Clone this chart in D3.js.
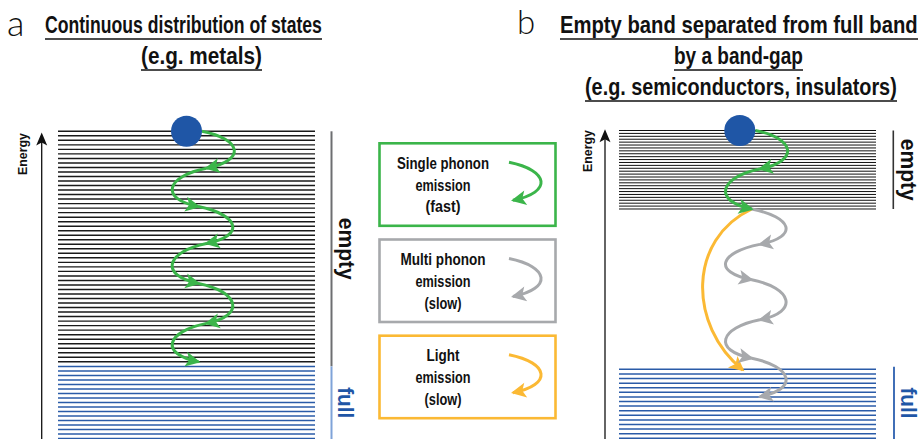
<!DOCTYPE html>
<html>
<head>
<meta charset="utf-8">
<script src="https://cdn.jsdelivr.net/npm/d3@7"></script>
<style>
  html, body { margin: 0; padding: 0; background: #fff; }
  svg { display: block; }
  .cond {
    font-family: "Liberation Sans Narrow", "Liberation Sans", "DejaVu Sans Condensed", sans-serif;
    font-weight: bold;
  }
  .panel-letter { font-family: "Lato", "Open Sans", sans-serif; font-weight: 300; }
</style>
</head>
<body>
<svg id="chart" width="921" height="439"></svg>
<script>
// ---- Band structure (energies in arbitrary units, 100 = highest drawn state) ----
const bandNames = ["empty", "full"];
const metalStates = [52, 17];
const metalBandTop = [100, 23.5];
const metalBandBottom = [25, 0];
const gapStates = [28, 16];
const gapBandTop = [100, 22.4];
const gapBandBottom = [74.5, 0];

// Electron position across the band (0 = left end, 1 = right end)
const metalElectronPos = 0.5;
const gapElectronPos = 0.47;

// Relaxation of the excited electron: energy reached after each step
const metalPhononSteps = [100, 88, 75.5, 63.5, 50.5, 37.5, 25];
const gapPhononSteps = [100, 87.5, 74.5];
const gapMultiPhononSteps = [74.5, 63, 51.5, 38.5, 26, 13.5];
const gapLightStep = [74.5, 22.2];

// Legend
const legendKinds = ["single", "multi", "light"];
const legendLabels = [
  ["Single phonon", "emission", "(fast)"],
  ["Multi phonon", "emission", "(slow)"],
  ["Light", "emission", "(slow)"]
];
const legendLabelWidths = [[92, 55, 35], [85, 55, 37], [33, 55, 37]];

// Titles
const titleA = ["Continuous distribution of states", "(e.g. metals)"];
const titleB = ["Empty band separated from full band", "by a band-gap", "(e.g. semiconductors, insulators)"];

const colors = { single: "#3bb54a", multi: "#a7a9ac", light: "#fbb934", electron: "#1f56a6" };

const svg = d3.select("#chart");

// Condensed text: draw with the regular face, then squeeze it horizontally
// so that the line takes exactly `width` pixels.
function condText(parent, str, opts) {
  const t = parent.append("text").attr("class", "cond")
    .attr("font-size", opts.size)
    .attr("fill", opts.fill || "#111")
    .attr("text-anchor", opts.anchor || "start")
    .text(str);
  const natural = t.node().getComputedTextLength();
  const sx = opts.width / natural;
  t.attr("transform", `translate(${opts.x},${opts.y}) rotate(${opts.rotate || 0}) scale(${sx},1)`);
  return t;
}

// ---- scales ----
const yA = d3.scaleLinear().domain([0, 100]).range([438.6, 131.3]);
const yB = d3.scaleLinear().domain([0, 100]).range([438.3, 130.5]);
const xA = d3.scaleLinear().domain([0, 1]).range([58, 315]);
const xB = d3.scaleLinear().domain([0, 1]).range([619, 876]);

function levels(top, bottom, n) {
  return d3.range(n).map(k => top - k * (top - bottom) / (n - 1));
}

// ---- band lines ----
function drawBands(g, x, y, states, tops, bottoms, styles) {
  bandNames.forEach((name, i) => {
    g.append("g").attr("class", "band " + name)
      .selectAll("line")
      .data(levels(tops[i], bottoms[i], states[i]))
      .join("line")
      .attr("x1", x(0)).attr("x2", x(1))
      .attr("y1", d => y(d)).attr("y2", d => y(d))
      .attr("stroke", styles[i].color)
      .attr("stroke-width", styles[i].width);
  });
}

const gA = svg.append("g");
const gB = svg.append("g");

drawBands(gA, xA, yA, metalStates, metalBandTop, metalBandBottom,
  [{ color: "#1a1a1a", width: 1.45 }, { color: "#2a5ba8", width: 1.5 }]);
drawBands(gB, xB, yB, gapStates, gapBandTop, gapBandBottom,
  [{ color: "#111", width: 1.0 }, { color: "#2a5ba8", width: 1.5 }]);

// ---- arrows ----
function arrowHead(g, tip, dir, color, len = 15, hw = 7.5) {
  const n = Math.hypot(dir[0], dir[1]);
  const u = [dir[0] / n, dir[1] / n];
  const v = [-u[1], u[0]];
  const T = [tip[0] + u[0] * 2, tip[1] + u[1] * 2];
  const B = [T[0] - u[0] * len, T[1] - u[1] * len];
  const N = [T[0] - u[0] * (len - 3.5), T[1] - u[1] * (len - 3.5)];
  const pts = [T, [B[0] + v[0] * hw, B[1] + v[1] * hw], N, [B[0] - v[0] * hw, B[1] - v[1] * hw]];
  g.append("path").attr("d", d3.line()(pts) + "Z").attr("fill", color);
}

function hop(g, x0, y0, x1, y1, side, color, k = 40, dip = 8) {
  const p = d3.path();
  p.moveTo(x0, y0);
  p.bezierCurveTo(x0 + side * k, y0 + dip, x1 + side * k, y1 - dip, x1, y1);
  g.append("path").attr("d", p.toString())
    .attr("fill", "none").attr("stroke", color).attr("stroke-width", 3);
  arrowHead(g, [x1, y1], [-side * k, dip], color);
}

// chain of hops alternating right / left swings
function hopChain(g, cx, startX, energies, y, color, firstSide) {
  let side = firstSide;
  let px = startX, py = y(energies[0]);
  for (let i = 1; i < energies.length; i++) {
    const nx = cx + (side > 0 ? 4 : -4);
    const ny = y(energies[i]);
    hop(g, px, py, nx, ny, side, color);
    px = nx; py = ny;
    side = -side;
  }
  return [px, py];
}

const rElectron = 15.5;

// Panel a: single-phonon cascade through the continuum
const exA = xA(metalElectronPos);
hopChain(gA, exA + 16, exA + rElectron, metalPhononSteps, yA, colors.single, 1);
gA.append("circle").attr("cx", exA).attr("cy", yA(100)).attr("r", rElectron).attr("fill", colors.electron);

// Panel b
const exB = xB(gapElectronPos);
const cxB = exB + 16;
const gapEdgeX = cxB - 4;
// light emission across the gap
(function () {
  const y0 = yB(gapLightStep[0]), y1 = yB(gapLightStep[1]);
  const x0 = gapEdgeX, x1 = cxB - 13;
  const p = d3.path();
  p.moveTo(x0, y0);
  p.bezierCurveTo(cxB - 68, y0 + 30, cxB - 68, y1 - 45, x1, y1);
  gB.append("path").attr("d", p.toString())
    .attr("fill", "none").attr("stroke", colors.light).attr("stroke-width", 3);
  arrowHead(gB, [x1, y1], [x1 - (cxB - 68), 45], colors.light);
})();
// multi-phonon cascade through the gap
hopChain(gB, cxB, gapEdgeX, gapMultiPhononSteps, yB, colors.multi, 1);
// fast relaxation inside the empty band
hopChain(gB, cxB, exB + rElectron, gapPhononSteps, yB, colors.single, 1);
gB.append("circle").attr("cx", exB).attr("cy", yB(100)).attr("r", rElectron).attr("fill", colors.electron);

// ---- energy axes ----
function energyAxis(x, yTip, labelX, labelY) {
  const g = svg.append("g");
  g.append("line").attr("x1", x).attr("x2", x).attr("y1", 439).attr("y2", yTip + 8)
    .attr("stroke", "#111").attr("stroke-width", 1.3);
  g.append("path").attr("d", d3.line()([[x, yTip], [x - 5.5, yTip + 13], [x, yTip + 10], [x + 5.5, yTip + 13]]) + "Z")
    .attr("fill", "#111");
  condText(g, "Energy", { x: labelX, y: labelY, rotate: -90, anchor: "middle", size: 12, width: 42 });
}
energyAxis(41.7, 132.5, 27, 154);
energyAxis(605, 129.3, 591.5, 151);

// ---- band labels ----
function bandLabel(x, y, band, lineColor, lineWidth, textX, textLen, textColor) {
  svg.append("line").attr("x1", x).attr("x2", x)
    .attr("y1", y[0]).attr("y2", y[1])
    .attr("stroke", lineColor).attr("stroke-width", lineWidth);
  condText(svg, band, { x: textX, y: (y[0] + y[1]) / 2, rotate: 90, anchor: "middle",
    size: 22, width: textLen, fill: textColor });
}
bandLabel(331.5, [yA(metalBandTop[0]), yA(metalBandBottom[0]) + 4.5], bandNames[0], "#6d6e71", 2, 338.5, 62, "#111");
bandLabel(331.5, [yA(metalBandTop[1]), 439], bandNames[1], "#7fa3d8", 2, 337.5, 31, colors.electron);
bandLabel(893.3, [yB(gapBandTop[0]), yB(gapBandBottom[0])], bandNames[0], "#333", 1.6, 900.8, 62, "#111");
bandLabel(894, [yB(gapBandTop[1]) - 2.5, 439], bandNames[1], "#2c5faf", 1.8, 900.5, 31, colors.electron);

// ---- legend ----
const boxTops = [143.3, 239.5, 335.7];
legendKinds.forEach((kind, i) => {
  const g = svg.append("g").attr("class", "legend-" + kind);
  const top = boxTops[i];
  g.append("rect").attr("x", 379.5).attr("y", top).attr("width", 176).attr("height", 82.5)
    .attr("fill", "#fff").attr("stroke", colors[kind]).attr("stroke-width", 2.6);
  legendLabels[i].forEach((label, j) => {
    condText(g, label, { x: 443, y: top + [25.5, 47.3, 69][j], anchor: "middle",
      size: 17, width: legendLabelWidths[i][j] });
  });
  hop(g, 509, top + 19, 513, top + 57, 1, colors[kind]);
});

// ---- titles ----
function titleLine(text, x, baseline, width) {
  condText(svg, text, { x: x, y: baseline, size: 24, width: width });
  svg.append("line").attr("x1", x).attr("x2", x + width)
    .attr("y1", baseline + 6).attr("y2", baseline + 6)
    .attr("stroke", "#111").attr("stroke-width", 1.6);
}
svg.append("text").attr("class", "panel-letter").attr("x", 7).attr("y", 36)
  .attr("font-size", 36).attr("fill", "#111").text("a");
titleLine(titleA[0], 45, 33, 277);
titleLine(titleA[1], 141, 64, 121);

svg.append("text").attr("class", "panel-letter").attr("x", 517).attr("y", 33.5)
  .attr("font-size", 33).attr("fill", "#111").text("b");
titleLine(titleB[0], 560, 33, 358);
titleLine(titleB[1], 674, 64, 129);
titleLine(titleB[2], 585, 95, 312);
</script>
</body>
</html>
